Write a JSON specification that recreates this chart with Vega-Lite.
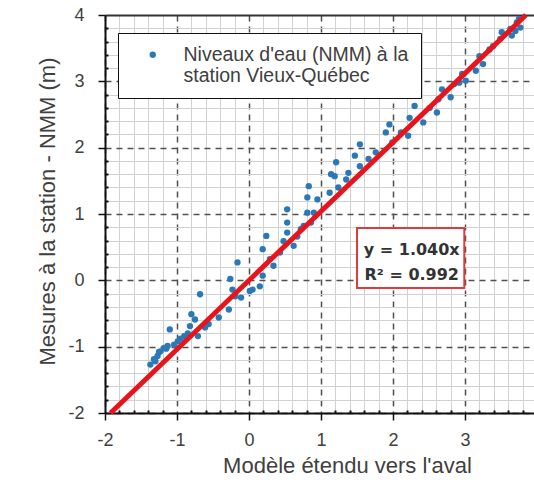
{
  "$schema": "https://vega.github.io/schema/vega-lite/v6.json",
  "autosize": {"type": "none"},
  "padding": {"left": 105, "top": 15, "right": 0, "bottom": 69},
  "width": 429,
  "height": 398,
  "background": "white",
  "config": {
    "view": {"stroke": null},
    "font": "Liberation Sans",
    "text": {"font": "Liberation Sans"}
  },
  "datasets": {
    "points": [
      {"x": -1.37, "y": -1.27, "serie": "Niveaux d'eau (NMM) à la station Vieux-Québec"},
      {"x": -1.32, "y": -1.19, "serie": "Niveaux d'eau (NMM) à la station Vieux-Québec"},
      {"x": -1.30, "y": -1.22, "serie": "Niveaux d'eau (NMM) à la station Vieux-Québec"},
      {"x": -1.27, "y": -1.14, "serie": "Niveaux d'eau (NMM) à la station Vieux-Québec"},
      {"x": -1.25, "y": -1.08, "serie": "Niveaux d'eau (NMM) à la station Vieux-Québec"},
      {"x": -1.23, "y": -1.07, "serie": "Niveaux d'eau (NMM) à la station Vieux-Québec"},
      {"x": -1.18, "y": -1.02, "serie": "Niveaux d'eau (NMM) à la station Vieux-Québec"},
      {"x": -1.15, "y": -1.03, "serie": "Niveaux d'eau (NMM) à la station Vieux-Québec"},
      {"x": -1.13, "y": -0.99, "serie": "Niveaux d'eau (NMM) à la station Vieux-Québec"},
      {"x": -1.10, "y": -0.74, "serie": "Niveaux d'eau (NMM) à la station Vieux-Québec"},
      {"x": -1.04, "y": -0.97, "serie": "Niveaux d'eau (NMM) à la station Vieux-Québec"},
      {"x": -0.99, "y": -0.92, "serie": "Niveaux d'eau (NMM) à la station Vieux-Québec"},
      {"x": -0.95, "y": -0.88, "serie": "Niveaux d'eau (NMM) à la station Vieux-Québec"},
      {"x": -0.90, "y": -0.84, "serie": "Niveaux d'eau (NMM) à la station Vieux-Québec"},
      {"x": -0.85, "y": -0.80, "serie": "Niveaux d'eau (NMM) à la station Vieux-Québec"},
      {"x": -0.82, "y": -0.69, "serie": "Niveaux d'eau (NMM) à la station Vieux-Québec"},
      {"x": -0.80, "y": -0.51, "serie": "Niveaux d'eau (NMM) à la station Vieux-Québec"},
      {"x": -0.75, "y": -0.59, "serie": "Niveaux d'eau (NMM) à la station Vieux-Québec"},
      {"x": -0.71, "y": -0.84, "serie": "Niveaux d'eau (NMM) à la station Vieux-Québec"},
      {"x": -0.68, "y": -0.21, "serie": "Niveaux d'eau (NMM) à la station Vieux-Québec"},
      {"x": -0.61, "y": -0.71, "serie": "Niveaux d'eau (NMM) à la station Vieux-Québec"},
      {"x": -0.56, "y": -0.66, "serie": "Niveaux d'eau (NMM) à la station Vieux-Québec"},
      {"x": -0.42, "y": -0.56, "serie": "Niveaux d'eau (NMM) à la station Vieux-Québec"},
      {"x": -0.28, "y": -0.44, "serie": "Niveaux d'eau (NMM) à la station Vieux-Québec"},
      {"x": -0.26, "y": 0.02, "serie": "Niveaux d'eau (NMM) à la station Vieux-Québec"},
      {"x": -0.23, "y": -0.14, "serie": "Niveaux d'eau (NMM) à la station Vieux-Québec"},
      {"x": -0.19, "y": -0.24, "serie": "Niveaux d'eau (NMM) à la station Vieux-Québec"},
      {"x": -0.16, "y": 0.27, "serie": "Niveaux d'eau (NMM) à la station Vieux-Québec"},
      {"x": -0.11, "y": -0.26, "serie": "Niveaux d'eau (NMM) à la station Vieux-Québec"},
      {"x": 0.01, "y": -0.16, "serie": "Niveaux d'eau (NMM) à la station Vieux-Québec"},
      {"x": 0.05, "y": -0.14, "serie": "Niveaux d'eau (NMM) à la station Vieux-Québec"},
      {"x": 0.15, "y": -0.09, "serie": "Niveaux d'eau (NMM) à la station Vieux-Québec"},
      {"x": 0.19, "y": 0.47, "serie": "Niveaux d'eau (NMM) à la station Vieux-Québec"},
      {"x": 0.19, "y": 0.07, "serie": "Niveaux d'eau (NMM) à la station Vieux-Québec"},
      {"x": 0.24, "y": 0.67, "serie": "Niveaux d'eau (NMM) à la station Vieux-Québec"},
      {"x": 0.29, "y": 0.32, "serie": "Niveaux d'eau (NMM) à la station Vieux-Québec"},
      {"x": 0.34, "y": 0.22, "serie": "Niveaux d'eau (NMM) à la station Vieux-Québec"},
      {"x": 0.43, "y": 0.42, "serie": "Niveaux d'eau (NMM) à la station Vieux-Québec"},
      {"x": 0.48, "y": 0.59, "serie": "Niveaux d'eau (NMM) à la station Vieux-Québec"},
      {"x": 0.53, "y": 1.07, "serie": "Niveaux d'eau (NMM) à la station Vieux-Québec"},
      {"x": 0.53, "y": 0.87, "serie": "Niveaux d'eau (NMM) à la station Vieux-Québec"},
      {"x": 0.53, "y": 0.72, "serie": "Niveaux d'eau (NMM) à la station Vieux-Québec"},
      {"x": 0.62, "y": 0.52, "serie": "Niveaux d'eau (NMM) à la station Vieux-Québec"},
      {"x": 0.67, "y": 0.66, "serie": "Niveaux d'eau (NMM) à la station Vieux-Québec"},
      {"x": 0.72, "y": 0.77, "serie": "Niveaux d'eau (NMM) à la station Vieux-Québec"},
      {"x": 0.76, "y": 0.82, "serie": "Niveaux d'eau (NMM) à la station Vieux-Québec"},
      {"x": 0.81, "y": 1.25, "serie": "Niveaux d'eau (NMM) à la station Vieux-Québec"},
      {"x": 0.81, "y": 1.02, "serie": "Niveaux d'eau (NMM) à la station Vieux-Québec"},
      {"x": 0.83, "y": 1.42, "serie": "Niveaux d'eau (NMM) à la station Vieux-Québec"},
      {"x": 0.86, "y": 0.87, "serie": "Niveaux d'eau (NMM) à la station Vieux-Québec"},
      {"x": 0.90, "y": 1.02, "serie": "Niveaux d'eau (NMM) à la station Vieux-Québec"},
      {"x": 0.95, "y": 1.22, "serie": "Niveaux d'eau (NMM) à la station Vieux-Québec"},
      {"x": 1.12, "y": 1.32, "serie": "Niveaux d'eau (NMM) à la station Vieux-Québec"},
      {"x": 1.14, "y": 1.60, "serie": "Niveaux d'eau (NMM) à la station Vieux-Québec"},
      {"x": 1.21, "y": 1.78, "serie": "Niveaux d'eau (NMM) à la station Vieux-Québec"},
      {"x": 1.19, "y": 1.57, "serie": "Niveaux d'eau (NMM) à la station Vieux-Québec"},
      {"x": 1.24, "y": 1.40, "serie": "Niveaux d'eau (NMM) à la station Vieux-Québec"},
      {"x": 1.35, "y": 1.52, "serie": "Niveaux d'eau (NMM) à la station Vieux-Québec"},
      {"x": 1.38, "y": 1.62, "serie": "Niveaux d'eau (NMM) à la station Vieux-Québec"},
      {"x": 1.47, "y": 1.88, "serie": "Niveaux d'eau (NMM) à la station Vieux-Québec"},
      {"x": 1.54, "y": 2.05, "serie": "Niveaux d'eau (NMM) à la station Vieux-Québec"},
      {"x": 1.54, "y": 1.72, "serie": "Niveaux d'eau (NMM) à la station Vieux-Québec"},
      {"x": 1.66, "y": 1.83, "serie": "Niveaux d'eau (NMM) à la station Vieux-Québec"},
      {"x": 1.76, "y": 1.93, "serie": "Niveaux d'eau (NMM) à la station Vieux-Québec"},
      {"x": 1.90, "y": 2.23, "serie": "Niveaux d'eau (NMM) à la station Vieux-Québec"},
      {"x": 1.95, "y": 2.35, "serie": "Niveaux d'eau (NMM) à la station Vieux-Québec"},
      {"x": 1.99, "y": 2.08, "serie": "Niveaux d'eau (NMM) à la station Vieux-Québec"},
      {"x": 2.11, "y": 2.23, "serie": "Niveaux d'eau (NMM) à la station Vieux-Québec"},
      {"x": 2.21, "y": 2.18, "serie": "Niveaux d'eau (NMM) à la station Vieux-Québec"},
      {"x": 2.23, "y": 2.45, "serie": "Niveaux d'eau (NMM) à la station Vieux-Québec"},
      {"x": 2.30, "y": 2.63, "serie": "Niveaux d'eau (NMM) à la station Vieux-Québec"},
      {"x": 2.42, "y": 2.38, "serie": "Niveaux d'eau (NMM) à la station Vieux-Québec"},
      {"x": 2.51, "y": 2.60, "serie": "Niveaux d'eau (NMM) à la station Vieux-Québec"},
      {"x": 2.61, "y": 2.53, "serie": "Niveaux d'eau (NMM) à la station Vieux-Québec"},
      {"x": 2.63, "y": 2.73, "serie": "Niveaux d'eau (NMM) à la station Vieux-Québec"},
      {"x": 2.68, "y": 2.88, "serie": "Niveaux d'eau (NMM) à la station Vieux-Québec"},
      {"x": 2.80, "y": 2.76, "serie": "Niveaux d'eau (NMM) à la station Vieux-Québec"},
      {"x": 2.85, "y": 2.96, "serie": "Niveaux d'eau (NMM) à la station Vieux-Québec"},
      {"x": 2.92, "y": 2.98, "serie": "Niveaux d'eau (NMM) à la station Vieux-Québec"},
      {"x": 2.96, "y": 3.11, "serie": "Niveaux d'eau (NMM) à la station Vieux-Québec"},
      {"x": 3.01, "y": 3.01, "serie": "Niveaux d'eau (NMM) à la station Vieux-Québec"},
      {"x": 3.15, "y": 3.16, "serie": "Niveaux d'eau (NMM) à la station Vieux-Québec"},
      {"x": 3.20, "y": 3.38, "serie": "Niveaux d'eau (NMM) à la station Vieux-Québec"},
      {"x": 3.25, "y": 3.26, "serie": "Niveaux d'eau (NMM) à la station Vieux-Québec"},
      {"x": 3.34, "y": 3.48, "serie": "Niveaux d'eau (NMM) à la station Vieux-Québec"},
      {"x": 3.39, "y": 3.53, "serie": "Niveaux d'eau (NMM) à la station Vieux-Québec"},
      {"x": 3.49, "y": 3.64, "serie": "Niveaux d'eau (NMM) à la station Vieux-Québec"},
      {"x": 3.51, "y": 3.74, "serie": "Niveaux d'eau (NMM) à la station Vieux-Québec"},
      {"x": 3.63, "y": 3.79, "serie": "Niveaux d'eau (NMM) à la station Vieux-Québec"},
      {"x": 3.65, "y": 3.69, "serie": "Niveaux d'eau (NMM) à la station Vieux-Québec"},
      {"x": 3.70, "y": 3.76, "serie": "Niveaux d'eau (NMM) à la station Vieux-Québec"},
      {"x": 3.72, "y": 3.89, "serie": "Niveaux d'eau (NMM) à la station Vieux-Québec"},
      {"x": 3.75, "y": 3.94, "serie": "Niveaux d'eau (NMM) à la station Vieux-Québec"},
      {"x": 3.77, "y": 3.81, "serie": "Niveaux d'eau (NMM) à la station Vieux-Québec"}
    ],
    "fit": [
      {"x": -1.923, "y": -2},
      {"x": 3.846, "y": 4}
    ],
    "box": [
      {"x": 1.5, "x2": 2.99, "y": 0.79, "y2": -0.116, "label": "y = 1.040x\nR² = 0.992", "lx": 2.26, "ly": 0.46}
    ]
  },
  "layer": [
    {
      "data": {"name": "points"},
      "mark": {"type": "circle", "size": 40, "opacity": 1},
      "encoding": {
        "x": {
          "field": "x", "type": "quantitative",
          "scale": {"domain": [-2, 3.958], "nice": false, "zero": false},
          "axis": {
            "title": "Modèle étendu vers l'aval",
            "values": [-2,-1.8,-1.6,-1.4,-1.2,-1,-0.8,-0.6,-0.4,-0.2,0,0.2,0.4,0.6,0.8,1,1.2,1.4,1.6,1.8,2,2.2,2.4,2.6,2.8,3,3.2,3.4,3.6,3.8],
            "tickCount": 60,
            "labelExpr": "abs(datum.value - round(datum.value)) < 0.01 ? '' + round(datum.value) : ''",
            "labelOverlap": false,
            "labelFlush": false,
            "labelFontSize": 18,
            "labelColor": "#404040",
            "labelPadding": 11,
            "titleFontSize": 22,
            "titleFontWeight": "normal",
            "titleColor": "#404040",
            "titleX": 242,
            "titleY": 52,
            "titleBaseline": "middle",
            "domainColor": "#111",
            "domainWidth": 2,
            "tickColor": "#111",
            "tickWidth": {"condition": {"test": "abs(datum.value - round(datum.value)) < 0.01", "value": 1.5}, "value": 2},
            "tickSize": {"condition": {"test": "abs(datum.value - round(datum.value)) < 0.01", "value": 7}, "value": -3},
            "grid": true,
            "gridColor": {"condition": {"test": "abs(datum.value - round(datum.value)) < 0.01", "value": "#505050"}, "value": "#d0d0d0"},
            "gridDash": {"condition": {"test": "abs(datum.value - round(datum.value)) < 0.01", "value": [6, 5]}, "value": []},
            "gridWidth": {"condition": {"test": "abs(datum.value - round(datum.value)) < 0.01", "value": 1.5}, "value": 1}
          }
        },
        "y": {
          "field": "y", "type": "quantitative",
          "scale": {"domain": [-2, 4], "nice": false, "zero": false},
          "axis": {
            "title": "Mesures à la station - NMM (m)",
            "values": [-2,-1.8,-1.6,-1.4,-1.2,-1,-0.8,-0.6,-0.4,-0.2,0,0.2,0.4,0.6,0.8,1,1.2,1.4,1.6,1.8,2,2.2,2.4,2.6,2.8,3,3.2,3.4,3.6,3.8,4],
            "tickCount": 60,
            "labelExpr": "abs(datum.value - round(datum.value)) < 0.01 ? '' + round(datum.value) : ''",
            "labelOverlap": false,
            "labelFlush": false,
            "labelFontSize": 18,
            "labelColor": "#404040",
            "labelPadding": 14,
            "titleFontSize": 22,
            "titleFontWeight": "normal",
            "titleColor": "#404040",
            "titleX": -58,
            "titleY": 196,
            "titleBaseline": "middle",
            "domainColor": "#111",
            "domainWidth": 2,
            "tickColor": "#111",
            "tickWidth": {"condition": {"test": "abs(datum.value - round(datum.value)) < 0.01", "value": 1.5}, "value": 2},
            "tickSize": {"condition": {"test": "abs(datum.value - round(datum.value)) < 0.01", "value": 7}, "value": -3},
            "grid": true,
            "gridColor": {"condition": [{"test": "datum.value > 3.99", "value": "#333333"}, {"test": "abs(datum.value - round(datum.value)) < 0.01", "value": "#505050"}], "value": "#d0d0d0"},
            "gridDash": {"condition": [{"test": "datum.value > 3.99", "value": []}, {"test": "abs(datum.value - round(datum.value)) < 0.01", "value": [6, 5]}], "value": []},
            "gridWidth": {"condition": [{"test": "datum.value > 3.99", "value": 2}, {"test": "abs(datum.value - round(datum.value)) < 0.01", "value": 1.5}], "value": 1}
          }
        },
        "color": {
          "field": "serie", "type": "nominal",
          "scale": {"range": ["#2a78b8"]},
          "legend": {
            "title": null,
            "orient": "none",
            "legendX": 13,
            "legendY": 18,
            "fillColor": "white",
            "strokeColor": "#111",
            "padding": 12,
            "symbolType": "circle",
            "symbolSize": 40,
            "symbolOffset": 13,
            "labelOffset": 21,
            "labelFontSize": 19.5,
            "labelColor": "#404040",
            "labelLimit": 400,
            "labelBaseline": "middle",
            "labelExpr": "[\"Niveaux d'eau (NMM) à la\", 'station Vieux-Québec']",
            "encode": {
              "legend": {"update": {"strokeWidth": {"value": 1.5}}}
            }
          }
        }
      }
    },
    {
      "data": {"name": "fit"},
      "mark": {"type": "line", "color": "#e8141c", "strokeWidth": 5},
      "encoding": {
        "x": {"field": "x", "type": "quantitative"},
        "y": {"field": "y", "type": "quantitative"}
      }
    },
    {
      "data": {"name": "box"},
      "mark": {"type": "rect", "fill": "white", "stroke": "#e23a3a", "strokeWidth": 2},
      "encoding": {
        "x": {"field": "x", "type": "quantitative"},
        "x2": {"field": "x2"},
        "y": {"field": "y", "type": "quantitative"},
        "y2": {"field": "y2"}
      }
    },
    {
      "data": {"name": "box"},
      "mark": {"type": "text", "lineBreak": "\n", "font": "DejaVu Sans", "fontWeight": "bold", "fontSize": 16, "color": "#333333", "lineHeight": 25, "baseline": "middle"},
      "encoding": {
        "x": {"field": "lx", "type": "quantitative"},
        "y": {"field": "ly", "type": "quantitative"},
        "text": {"field": "label"}
      }
    }
  ]
}
